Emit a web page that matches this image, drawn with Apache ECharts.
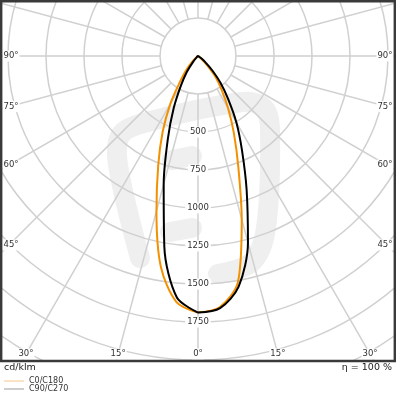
<!DOCTYPE html>
<html>
<head>
<meta charset="utf-8">
<script src="https://cdn.jsdelivr.net/npm/echarts@6/dist/echarts.min.js"></script>
<style>
html,body{margin:0;padding:0;background:#fff;}
#c{width:396px;height:396px;}
</style>
</head>
<body>
<div id="c"></div>
<script>
// gamma angles (deg from nadir)
const angles = [0,5,10,15,20,25,30,35,40,45,50,55,60,65,70,75,80,85,90,95,100,105,110,115,120,125,130,135,140,145,150,155,160,165,170,175,180];
// luminous intensity, cd/klm
const c0   = [1688,1658,1512,1112,775,558,395,270,178,80,22,4,0,0,0,0,0,0,0,0,0,0,0,0,0,0,0,0,0,0,0,0,0,0,0,0,0];
const c180 = [1688,1625,1408,1056,765,550,365,205,120,55,15,2,0,0,0,0,0,0,0,0,0,0,0,0,0,0,0,0,0,0,0,0,0,0,0,0,0];
const c90  = [1688,1665,1540,1270,935,685,505,345,230,130,62,24,5,0,0,0,0,0,0,0,0,0,0,0,0,0,0,0,0,0,0,0,0,0,0,0,0];
const c270 = [1688,1595,1275,872,580,378,225,130,50,12,0,0,0,0,0,0,0,0,0,0,0,0,0,0,0,0,0,0,0,0,0,0,0,0,0,0,0];
const seriesNames = ['C0/C180','C90/C270'];
const radialTicks = [500,750,1000,1250,1500,1750];
const sideAngleTicks = [90,75,60,45];
const bottomAngleTicks = [-30,-15,0,15,30];
const unitLabel = 'cd/klm';
const effLabel = '\u03b7 = 100 %';

// layout
const CX = 198, CY = 56, R = 380;
const FONT = 'DejaVu Sans';

function plane(right, left) {
  const d = [];
  for (let i = 0; i < angles.length; i++) d.push([right[i], angles[i]]);
  for (let i = angles.length - 1; i >= 0; i--) d.push([left[i], 360 - angles[i]]);
  return d;
}

const graphics = [];
// faint background watermark
const wm = {stroke:'#efefef', fill:null, lineWidth:20, lineCap:'round', lineJoin:'round'};
graphics.push({type:'polyline', z:0, shape:{smooth:0.35, points:[[140,258],[118,165],[120,136],[140,124],[242,102],[264,108],[270,130],[266,228],[252,262],[218,274]]}, style:wm});
graphics.push({type:'line', z:0, shape:{x1:172,y1:160,x2:192,y2:156}, style:wm});
graphics.push({type:'line', z:0, shape:{x1:170,y1:232,x2:192,y2:228}, style:wm});
// frame
graphics.push({type:'rect', z:90, shape:{x:0,y:362,width:396,height:34}, style:{fill:'#fff'}});
graphics.push({type:'rect', z:100, shape:{x:1.2,y:1.2,width:393.6,height:359.8}, style:{fill:null, stroke:'#3a3a3a', lineWidth:2.4}});
// side angle labels
sideAngleTicks.forEach(a => {
  const yy = a === 90 ? CY : CY + (CX - 9) / Math.tan(a * Math.PI / 180);
  graphics.push({type:'text', z:95, style:{text:a+'\u00b0', x:2.5, y:yy, align:'left', verticalAlign:'middle', fill:'#333', font:'8.5px "'+FONT+'"', backgroundColor:'#fff', padding:[1,1]}});
  graphics.push({type:'text', z:95, style:{text:a+'\u00b0', x:393.5, y:yy, align:'right', verticalAlign:'middle', fill:'#333', font:'8.5px "'+FONT+'"', backgroundColor:'#fff', padding:[1,1]}});
});
bottomAngleTicks.forEach(a => {
  const y = 354;
  const x = CX + (y - CY) * Math.tan(a * Math.PI / 180);
  graphics.push({type:'text', z:95, style:{text:Math.abs(a)+'\u00b0', x:x, y:y, align:'center', verticalAlign:'middle', fill:'#333', font:'8.5px "'+FONT+'"', backgroundColor:'#fff', padding:[1,1]}});
});
graphics.push({type:'text', z:120, style:{text:unitLabel, x:4, y:367.5, align:'left', verticalAlign:'middle', fill:'#222', font:'9.5px "'+FONT+'"'}});
graphics.push({type:'text', z:120, style:{text:effLabel, x:392, y:367.5, align:'right', verticalAlign:'middle', fill:'#222', font:'9.5px "'+FONT+'"'}});

const chart = echarts.init(document.getElementById('c'), null, {renderer:'canvas'});
const gridColor = '#d0d0d0';
chart.setOption({
  animation: false,
  backgroundColor: '#fff',
  textStyle: {fontFamily: FONT},
  polar: [
    {center:[CX, CY], radius:[R*250/2500, R]},
    {center:[CX, CY], radius:[0, R]}
  ],
  angleAxis: [
    {polarIndex:0, z:50, type:'value', min:0, max:360, interval:15, startAngle:270, clockwise:false,
     axisLine:{show:false}, axisTick:{show:false}, axisLabel:{show:false},
     splitLine:{show:true, lineStyle:{color:gridColor, width:1.5}}},
    {polarIndex:1, type:'value', min:0, max:360, startAngle:270, clockwise:false, show:false}
  ],
  radiusAxis: [
    {polarIndex:0, z:51, type:'value', min:250, max:2500, interval:250,
     axisLine:{show:false}, axisTick:{show:false},
     splitLine:{show:true, lineStyle:{color:gridColor, width:1.5}},
     axisLabel:{show:true, customValues: radialTicks, margin:0, align:'center', verticalAlign:'middle',
       formatter: v => String(v), color:'#333', fontSize:8.5, fontFamily:FONT,
       backgroundColor:'#fff', padding:[1,2]}},
    {polarIndex:1, type:'value', min:0, max:2500, show:false}
  ],
  legend: {
    z: 200, orient:'vertical', left:4, top:377, padding:0, itemGap:0,
    icon:'rect', itemWidth:20, itemHeight:1,
    textStyle:{fontSize:8, color:'#333', fontFamily:FONT, lineHeight:8},
    data:[{name:seriesNames[0], itemStyle:{color:'#f8c488'}}, {name:seriesNames[1], itemStyle:{color:'#9a9a9a'}}]
  },
  graphic: {elements: graphics},
  series: [
    {type:'line', name:seriesNames[0], coordinateSystem:'polar', polarIndex:1, data:plane(c0, c180),
     symbol:'none', smooth:0.3, lineStyle:{color:'#f39000', width:2}, itemStyle:{color:'#f39000'}, z:60},
    {type:'line', name:seriesNames[1], coordinateSystem:'polar', polarIndex:1, data:plane(c90, c270),
     symbol:'none', smooth:0.3, lineStyle:{color:'#000', width:2}, itemStyle:{color:'#000'}, z:61}
  ]
});
</script>
</body>
</html>
